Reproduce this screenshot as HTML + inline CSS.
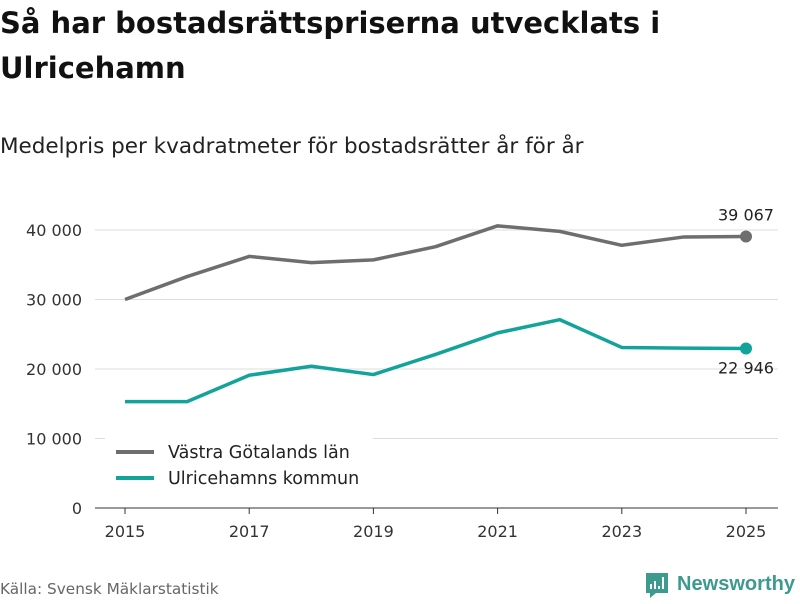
<!DOCTYPE html>
<html><head><meta charset="utf-8"><style>
body{margin:0;width:800px;height:600px;background:#fff;font-family:"DejaVu Sans","Liberation Sans",sans-serif;overflow:hidden}
</style></head><body>
<svg id="c" width="800" height="600" xmlns="http://www.w3.org/2000/svg">
<text x="0" y="33" font-size="29" font-weight="bold" fill="#111">Så har bostadsrättspriserna utvecklats i</text>
<text x="0" y="78" font-size="29" font-weight="bold" fill="#111">Ulricehamn</text>
<text x="0" y="153" font-size="21.5" fill="#222">Medelpris per kvadratmeter för bostadsrätter år för år</text>
<g id="grid"></g><g id="xt"></g><g id="lines"></g>
<rect x="105" y="436" width="268" height="60" fill="#fff"/>
<line x1="116" y1="452" x2="154" y2="452" stroke="#6e6e70" stroke-width="4"/>
<text x="168" y="458" font-size="17.5" fill="#222">Västra Götalands län</text>
<line x1="116" y1="478" x2="154" y2="478" stroke="#12a39a" stroke-width="4"/>
<text x="168" y="484" font-size="17.5" fill="#222">Ulricehamns kommun</text>
<text x="0" y="594" font-size="15.3" fill="#666">Källa: Svensk Mäklarstatistik</text>
<g>
<path d="M646 573h22v20h-12l-6 5v-5h-4z" fill="#3c9a8f"/>
<rect x="650" y="584" width="2" height="5" fill="#fff"/><rect x="654" y="581" width="2" height="8" fill="#fff"/><rect x="658" y="586" width="2" height="3" fill="#fff"/><rect x="662" y="577" width="2" height="12" fill="#fff"/>
<text x="677" y="590" font-size="20" font-weight="bold" fill="#3c9a8f" font-family="Liberation Sans, sans-serif" textLength="118" lengthAdjust="spacingAndGlyphs">Newsworthy</text>
</g>
</svg>
<script>
const years=[2015,2016,2017,2018,2019,2020,2021,2022,2023,2024,2025];
const vastra=[30000,33300,36200,35300,35700,37600,40600,39800,37800,39000,39067];
const ulricehamn=[15300,15300,19100,20400,19200,22100,25200,27100,23100,23000,22946];
const yTicks=[0,10000,20000,30000,40000];
const xTicks=[2015,2017,2019,2021,2023,2025];
const NS="http://www.w3.org/2000/svg";
const x=v=>125+(v-2015)*62.1;
const y=v=>508-v*0.00695;
const fmt=v=>v.toLocaleString('en-US').replace(/,/g,' ');
function mk(t,a,p){const e=document.createElementNS(NS,t);for(const k in a)e.setAttribute(k,a[k]);p.appendChild(e);return e;}
const g=document.getElementById('grid');
yTicks.forEach(v=>{
 const l=mk('line',{x1:95,x2:778,y1:y(v),y2:y(v),stroke:v===0?'#333':'#ddd','stroke-width':1},g);
 
 
 const t=mk('text',{x:82,y:y(v)+6,'font-size':16,fill:'#333','text-anchor':'end'},g);t.textContent=fmt(v);
 
 
});
const xt=document.getElementById('xt');
xTicks.forEach(v=>{
 const l=mk('line',{x1:x(v),x2:x(v),y1:508,y2:514,stroke:'#333'},xt);
 
 
 const t=mk('text',{x:x(v),y:537,'font-size':16,fill:'#333','text-anchor':'middle'},xt);t.textContent=v;
 
 
});
const L=document.getElementById('lines');
function series(d,col,name,ly){
 const p=mk('polyline',{points:d.map((v,i)=>x(years[i])+','+y(v)).join(' '),fill:'none',stroke:col,'stroke-width':3.5,'stroke-linejoin':'round'},L);
 
 
 const n=d.length-1;
 const c=mk('circle',{cx:x(years[n]),cy:y(d[n]),r:6,fill:col},L);
 
 
 const t=mk('text',{x:x(years[n]),y:y(d[n])+ly,'font-size':16,fill:'#222','text-anchor':'middle'},L);t.textContent=fmt(d[n]);
 
 
}
series(vastra,'#6e6e70','vastra',-16);
series(ulricehamn,'#12a39a','ulricehamn',25);
</script>
</body></html>
